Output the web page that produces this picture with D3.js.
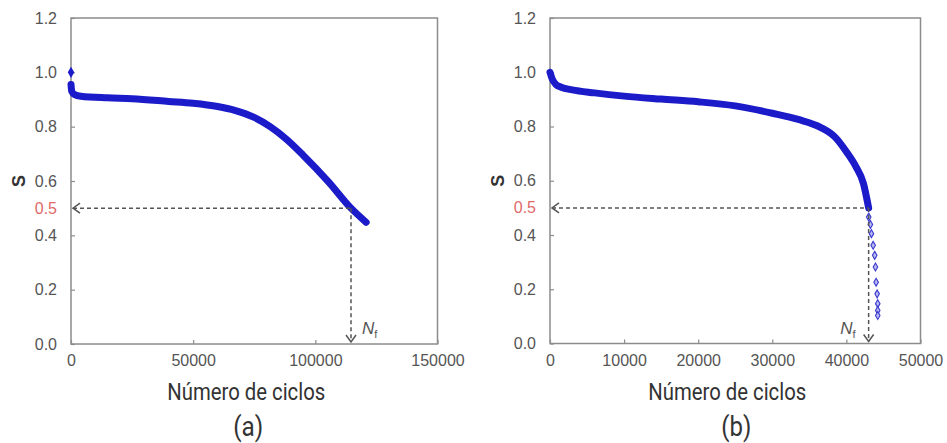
<!DOCTYPE html>
<html><head><meta charset="utf-8">
<script src="https://cdn.jsdelivr.net/npm/d3@7"></script>
<style>body{margin:0;background:#fff}</style>
</head><body>
<svg id="c" width="947" height="443"></svg>
<script>
// ---- data ----
const yTicks = [0, 0.2, 0.4, 0.6, 0.8, 1.0, 1.2];
const xTicksA = [0, 50000, 100000, 150000];
const xTicksB = [0, 10000, 20000, 30000, 40000, 50000];
const xLabel = "Número de ciclos";
const yLabel = "S";
const sCrit = 0.5;

// panel (a)
const firstCycleA = [0];
const firstSA = [1.0];
const cyclesA = [0, 300, 1500, 4000, 15000, 25000, 40000, 50000, 60000, 67000, 75000, 81500, 88000, 95000, 105300, 114600, 120800];
const sA      = [0.955, 0.93, 0.918, 0.912, 0.906, 0.903, 0.893, 0.886, 0.874, 0.860, 0.834, 0.800, 0.755, 0.695, 0.598, 0.500, 0.448];
const nfA = 114600;

// panel (b)
const cyclesB = [0, 300, 800, 1500, 3000, 6000, 10000, 15000, 20000, 25000, 30000, 33500, 36500, 38500, 40000, 41300, 42300, 43000];
const sB      = [1.0, 0.975, 0.955, 0.945, 0.935, 0.924, 0.912, 0.901, 0.891, 0.876, 0.849, 0.826, 0.797, 0.760, 0.707, 0.651, 0.590, 0.500];
const markCyclesB = [43010, 43240, 43380, 43610, 43820, 43920, 44010, 44150, 44230, 44230];
const markSB      = [0.466, 0.439, 0.405, 0.362, 0.325, 0.282, 0.226, 0.183, 0.147, 0.122];
const markCyclesB2 = [44230];
const markSB2 = [0.103];
const nfB = 43000;

// ---- drawing ----
const svg = d3.select("#c");
const tickFont = "'Liberation Sans', Arial, sans-serif";
const titleFont = "'Liberation Sans Narrow', Roboto, 'Liberation Sans', sans-serif";
const blue = "#1b1bc9";
const frameCol = "#8c8c8c";

function panel(o) {
  const x = d3.scaleLinear().domain([o.xTicks[0], o.xTicks[o.xTicks.length - 1]]).range([o.left, o.right]);
  const y = d3.scaleLinear().domain([0, 1.2]).range([o.bottom, o.top]);
  const g = svg.append("g");

  // frame
  g.append("rect").attr("x", o.left).attr("y", o.top)
    .attr("width", o.right - o.left).attr("height", o.bottom - o.top)
    .attr("fill", "none").attr("stroke", frameCol).attr("stroke-width", 1.5);

  // axes (inner ticks)
  const ax = g.append("g").attr("transform", `translate(0,${o.bottom})`)
    .call(d3.axisBottom(x).tickValues(o.xTicks).tickSize(-4).tickPadding(11).tickFormat(d3.format("d")));
  const ay = g.append("g").attr("transform", `translate(${o.left},0)`)
    .call(d3.axisLeft(y).tickValues(yTicks).tickSize(-4).tickPadding(14).tickFormat(d3.format(".1f")));
  [ax, ay].forEach(a => {
    a.select(".domain").remove();
    a.selectAll(".tick line").attr("stroke", frameCol).attr("stroke-width", 1.2);
    a.selectAll(".tick text").attr("fill", "#555").style("font-family", tickFont).style("font-size", "16px");
  });

  // red 0.5 label
  g.append("text").attr("x", o.left - 14).attr("y", y(sCrit)).attr("dy", "0.34em")
    .attr("text-anchor", "end").attr("fill", "#e06a6a")
    .style("font-family", tickFont).style("font-size", "16px").text(d3.format(".1f")(sCrit));

  // curve
  const pts = o.cycles.map((c, i) => [c, o.s[i]]);
  g.append("path").datum(pts)
    .attr("d", d3.line().x(d => x(d[0])).y(d => y(d[1])).curve(d3.curveMonotoneX))
    .attr("fill", "none").attr("stroke", blue).attr("stroke-width", 7)
    .attr("stroke-linecap", "round").attr("stroke-linejoin", "round");

  // extra markers
  if (o.first) {
    g.selectAll(null).data(o.first).enter().append("path")
      .attr("d", d3.symbol(d3.symbolDiamond, 36))
      .attr("transform", d => `translate(${x(d[0])},${y(d[1])})`)
      .attr("fill", blue);
  }
  if (o.marks) {
    g.selectAll(null).data(o.marks).enter().append("path")
      .attr("d", d3.symbol(d3.symbolDiamond, 18))
      .attr("transform", d => `translate(${x(d[0])},${y(d[1])})`)
      .attr("fill", "#b8b8ee").attr("stroke", "#3a3ad0").attr("stroke-width", 1.1);
  }

  // dashed guides
  const dash = "4,3", dcol = "#555";
  const xn = x(o.nf), yc = y(sCrit);
  g.append("line").attr("x1", x(0) + 2).attr("x2", xn).attr("y1", yc).attr("y2", yc)
    .attr("stroke", dcol).attr("stroke-width", 1.5).attr("stroke-dasharray", dash);
  g.append("line").attr("x1", xn).attr("x2", xn).attr("y1", yc).attr("y2", y(0) - 2)
    .attr("stroke", dcol).attr("stroke-width", 1.5).attr("stroke-dasharray", dash);
  g.append("path").attr("d", `M${x(0) + 9},${yc - 5} L${x(0) + 2},${yc} L${x(0) + 9},${yc + 5}`)
    .attr("fill", "none").attr("stroke", dcol).attr("stroke-width", 1.5);
  g.append("path").attr("d", `M${xn - 5},${y(0) - 9} L${xn},${y(0) - 2} L${xn + 5},${y(0) - 9}`)
    .attr("fill", "none").attr("stroke", dcol).attr("stroke-width", 1.5);

  // Nf label
  const nf = g.append("text").attr("x", xn + o.nfDx).attr("y", o.bottom - 10)
    .attr("text-anchor", o.nfAnchor).attr("fill", "#555")
    .style("font-family", tickFont).style("font-size", "17px");
  nf.append("tspan").style("font-style", "italic").text("N");
  nf.append("tspan").attr("dy", 4).style("font-size", "11px").text("f");

  // titles
  const cx = (o.left + o.right) / 2;
  g.append("text").attr("x", cx - 8).attr("y", 400).attr("text-anchor", "middle")
    .attr("fill", "#333").style("font-family", titleFont).style("font-size", "23px")
    .attr("textLength", 158).attr("lengthAdjust", "spacingAndGlyphs").text(xLabel);
  g.append("text").attr("x", cx + o.capDx).attr("y", 436).attr("text-anchor", "middle")
    .attr("fill", "#333").style("font-family", titleFont).style("font-size", "27px")
    .attr("textLength", 30).attr("lengthAdjust", "spacingAndGlyphs").text(o.caption);
  g.append("text").attr("transform", `translate(${o.left - 52},${y(0.6)}) rotate(-90)`)
    .attr("text-anchor", "middle").attr("dy", "0.36em").attr("fill", "#333")
    .style("font-family", tickFont).style("font-size", "18px").style("font-weight", "bold").text(yLabel);
}

panel({ left: 71, right: 437.5, top: 18, bottom: 344, xTicks: xTicksA,
  cycles: cyclesA, s: sA, first: firstCycleA.map((c, i) => [c, firstSA[i]]),
  nf: nfA, nfDx: 11, nfAnchor: "start", caption: "(a)", capDx: -6 });
panel({ left: 550, right: 920.5, top: 18, bottom: 343.5, xTicks: xTicksB,
  cycles: cyclesB, s: sB,
  marks: markCyclesB.map((c, i) => [c, markSB[i]]).concat(markCyclesB2.map((c, i) => [c, markSB2[i]])),
  nf: nfB, nfDx: -13, nfAnchor: "end", caption: "(b)", capDx: 1 });
</script>
</body></html>
